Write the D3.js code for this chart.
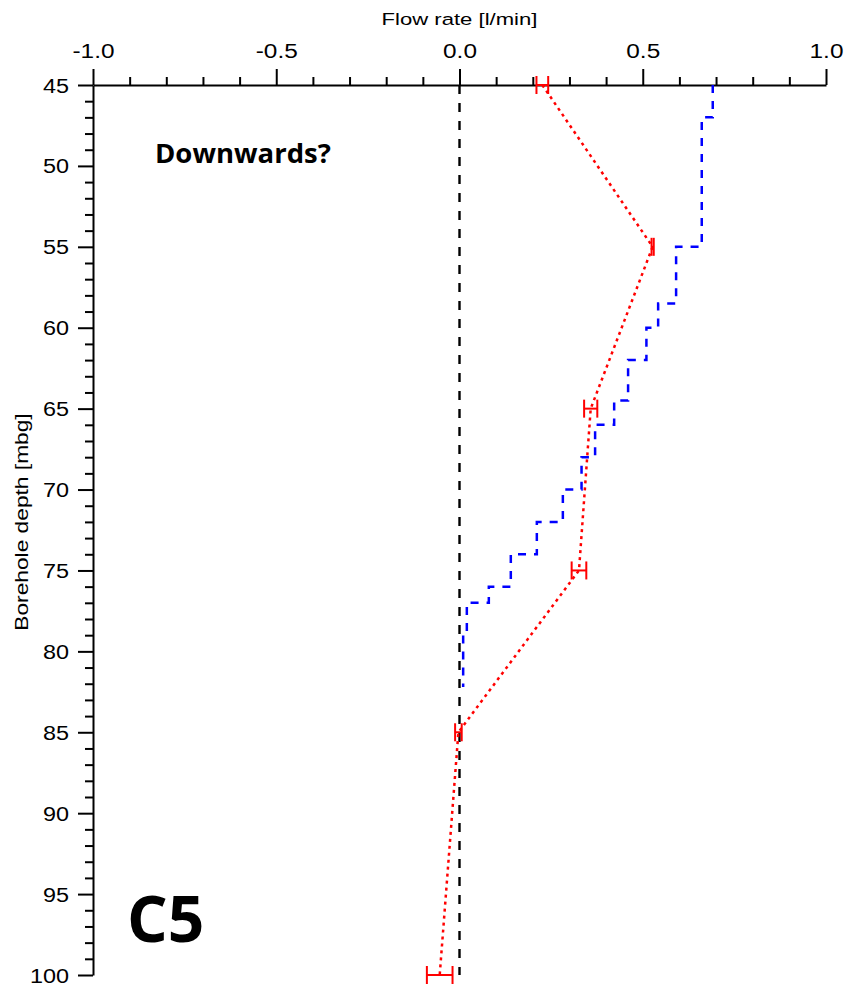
<!DOCTYPE html>
<html>
<head>
<meta charset="utf-8">
<script src="https://cdn.jsdelivr.net/npm/d3@7"></script>
<style>
  body { margin: 0; background: #fff; }
  svg { display: block; }
  .tick text { font-family: "Liberation Sans", Arial, sans-serif; }
</style>
</head>
<body>
<div id="chart"></div>
<script>
// data
var majorFlowTicks = [-1.0, -0.5, 0.0, 0.5, 1.0];
var majorDepthTicks = [45, 50, 55, 60, 65, 70, 75, 80, 85, 90, 95, 100];

// blue step profile: flow between depthTop[i] and depthTop[i+1]
var stepDepths = [45, 47, 55, 58.5, 60, 62, 64.5, 66, 68, 70, 72, 74, 76, 77, 79, 82.2];
var stepFlows = [0.691, 0.661, 0.591, 0.542, 0.510, 0.460, 0.422, 0.370, 0.333, 0.282, 0.211, 0.140, 0.080, 0.020, 0.010];

// red measured points with error
var pointDepths = [45, 55, 65, 75, 85, 100];
var pointFlows = [0.226, 0.527, 0.358, 0.326, -0.003, -0.054];
var pointErrors = [0.016, 0.003, 0.018, 0.020, 0.009, 0.035];

// work area
var svgWidth = 846;
var svgHeight = 990;
var margin = { top: 85, left: 93, right: 20, bottom: 15 };
var chartWidth = 826 - margin.left;
var chartHeight = 975 - margin.top;

var svg = d3.select("#chart")
    .append("svg")
    .attr("width", svgWidth)
    .attr("height", svgHeight);

var chartGroup = svg.append("g")
    .attr("transform", `translate(${margin.left}, ${margin.top})`);

// scales
var xScale = d3.scaleLinear().domain([-1, 1]).range([0, chartWidth]);
var yScale = d3.scaleLinear().domain([45, 100]).range([0, chartHeight]);

var minorFlow = d3.range(-10, 11).map(d => d / 10).filter(d => majorFlowTicks.indexOf(d) < 0);
var minorDepth = d3.range(45, 101).filter(d => d % 5 !== 0);

// plain hyphen instead of unicode minus
var flowFormat = d => d.toFixed(1);

// minor ticks first
chartGroup.append("g")
    .call(d3.axisTop(xScale).tickValues(minorFlow).tickSize(8).tickSizeOuter(0).tickFormat(""))
    .call(g => g.select(".domain").remove());
chartGroup.append("g")
    .call(d3.axisLeft(yScale).tickValues(minorDepth).tickSize(8).tickSizeOuter(0).tickFormat(""))
    .call(g => g.select(".domain").remove());

// major ticks with labels
var topAxis = chartGroup.append("g")
    .call(d3.axisTop(xScale).tickValues(majorFlowTicks).tickSize(16).tickSizeOuter(0).tickFormat(flowFormat));
topAxis.selectAll("text")
    .attr("y", -27)
    .attr("dy", 0)
    .attr("transform", "scale(1.25,1)")
    .attr("font-size", "19.5px")
    .attr("fill", "#000");

var leftAxis = chartGroup.append("g")
    .call(d3.axisLeft(yScale).tickValues(majorDepthTicks).tickSize(15).tickSizeOuter(0).tickFormat(d3.format("d")));
leftAxis.selectAll("text")
    .attr("x", -24 / 1.2)
    .attr("dy", "0.36em")
    .attr("transform", "scale(1.2,1)")
    .attr("font-size", "19.5px")
    .attr("fill", "#000");

chartGroup.selectAll(".domain, .tick line")
    .attr("stroke", "#000")
    .attr("stroke-width", 2);

// zero line
chartGroup.append("line")
    .attr("x1", xScale(0)).attr("x2", xScale(0))
    .attr("y1", yScale(45)).attr("y2", yScale(100))
    .attr("stroke", "#000")
    .attr("stroke-width", 2.4)
    .attr("stroke-dasharray", "9,9");

// blue step line
var stepPoints = [];
stepFlows.forEach((f, i) => {
    stepPoints.push([f, stepDepths[i]]);
    stepPoints.push([f, stepDepths[i + 1]]);
});
var line = d3.line().x(d => xScale(d[0])).y(d => yScale(d[1]));

chartGroup.append("path")
    .datum(stepPoints)
    .attr("d", line)
    .attr("fill", "none")
    .attr("stroke", "#0000ff")
    .attr("stroke-width", 2.5)
    .attr("stroke-dasharray", "8,8");

// red dotted line
var redPoints = pointDepths.map((d, i) => [pointFlows[i], d]);
chartGroup.append("path")
    .datum(redPoints)
    .attr("d", line)
    .attr("fill", "none")
    .attr("stroke", "#ff0000")
    .attr("stroke-width", 2.5)
    .attr("stroke-dasharray", "3,4");

// error bars
var errGroup = chartGroup.selectAll(".err")
    .data(redPoints.map((p, i) => ({ f: p[0], d: p[1], e: pointErrors[i] })))
    .enter()
    .append("g")
    .attr("class", "err");

errGroup.append("line")
    .attr("x1", d => xScale(d.f - d.e)).attr("x2", d => xScale(d.f + d.e))
    .attr("y1", d => yScale(d.d)).attr("y2", d => yScale(d.d))
    .attr("stroke", "#ff0000").attr("stroke-width", 2);
errGroup.append("line")
    .attr("x1", d => xScale(d.f - d.e)).attr("x2", d => xScale(d.f - d.e))
    .attr("y1", d => yScale(d.d) - 9).attr("y2", d => yScale(d.d) + 9)
    .attr("stroke", "#ff0000").attr("stroke-width", 2);
errGroup.append("line")
    .attr("x1", d => xScale(d.f + d.e)).attr("x2", d => xScale(d.f + d.e))
    .attr("y1", d => yScale(d.d) - 9).attr("y2", d => yScale(d.d) + 9)
    .attr("stroke", "#ff0000").attr("stroke-width", 2);

// axis titles
svg.append("text")
    .attr("transform", `translate(${margin.left + xScale(0)}, 25) scale(1.3,1)`)
    .attr("text-anchor", "middle")
    .attr("font-family", "Liberation Sans, Arial, sans-serif")
    .attr("font-size", "17px")
    .text("Flow rate [l/min]");

svg.append("text")
    .attr("transform", "translate(28, 522) rotate(-90) scale(1.3,1)")
    .attr("text-anchor", "middle")
    .attr("font-family", "Liberation Sans, Arial, sans-serif")
    .attr("font-size", "17.5px")
    .text("Borehole depth [mbg]");

// annotations
svg.append("text")
    .attr("x", 155)
    .attr("y", 163)
    .attr("font-family", "Open Sans, sans-serif")
    .attr("font-weight", "bold")
    .attr("font-size", "27.5px")
    .text("Downwards?");

svg.append("text")
    .attr("x", 127)
    .attr("y", 942)
    .attr("font-family", "Open Sans, sans-serif")
    .attr("font-weight", "bold")
    .attr("font-size", "64px")
    .text("C5");
</script>
</body>
</html>
